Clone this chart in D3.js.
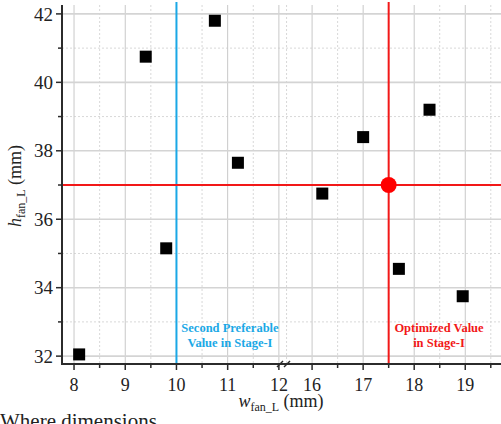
<!DOCTYPE html>
<html>
<head>
<meta charset="utf-8">
<script src="https://cdn.jsdelivr.net/npm/d3@7"></script>
<style>
  body { margin: 0; background: #fff; }
  text { font-family: "Liberation Serif", "Times New Roman", Times, "DejaVu Serif", serif; }
</style>
</head>
<body>
<svg width="501" height="424"></svg>
<script>
// measured points (w_fan_L, h_fan_L)
var wValues = [8.1, 9.4, 9.8, 10.75, 11.2, 16.2, 17.0, 17.7, 18.3, 18.95];
var hValues = [32.05, 40.75, 35.15, 41.8, 37.65, 36.75, 38.4, 34.55, 39.2, 33.75];

var xTicksLeft = [8, 9, 10, 11, 12];
var xTicksRight = [16, 17, 18, 19];
var xMinorLeft = [8.5, 9.5, 10.5, 11.5];
var xMinorRight = [15.5, 16.5, 17.5, 18.5, 19.5];
var yTicks = [32, 34, 36, 38, 40, 42];
var yMinor = [33, 35, 37, 39, 41];

var secondW = 10;
var optW = 17.5, optH = 37;

const svg = d3.select("svg");
const serif = "'Liberation Serif', 'Times New Roman', Times, 'DejaVu Serif', serif";

var axisY = 364, axisX = 62, breakX = 284;

var xl = d3.scaleLinear().domain([7.765, 12.1]).range([axisX, breakX]);
var xr = d3.scaleLinear().domain([15.45, 19.7]).range([breakX, 501]);
function x(v) { return v <= 12.1 ? xl(v) : xr(v); }
var y = d3.scaleLinear().domain([31.77, 42.26]).range([axisY, 5]);

var grid = svg.append("g");

// minor gridlines (dotted)
grid.selectAll(".vminor")
    .data(xMinorLeft.concat(xMinorRight))
  .enter().append("line")
    .attr("x1", d => x(d)).attr("x2", d => x(d))
    .attr("y1", 5).attr("y2", axisY)
    .style("stroke", "#d8d8d8")
    .style("stroke-width", "1px")
    .style("stroke-dasharray", "2,2");

grid.selectAll(".hminor")
    .data(yMinor)
  .enter().append("line")
    .attr("x1", axisX).attr("x2", 501)
    .attr("y1", d => y(d)).attr("y2", d => y(d))
    .style("stroke", "#d8d8d8")
    .style("stroke-width", "1px")
    .style("stroke-dasharray", "2,2");

// major gridlines
grid.selectAll(".vmajor")
    .data(xTicksLeft.concat(xTicksRight))
  .enter().append("line")
    .attr("x1", d => x(d)).attr("x2", d => x(d))
    .attr("y1", 5).attr("y2", axisY)
    .style("stroke", "#c8c8c8")
    .style("stroke-width", "1px");

grid.selectAll(".hmajor")
    .data(yTicks)
  .enter().append("line")
    .attr("x1", axisX).attr("x2", 501)
    .attr("y1", d => y(d)).attr("y2", d => y(d))
    .style("stroke", "#d4d4d4")
    .style("stroke-width", "1.6px");

// reference lines
svg.append("line")
    .attr("x1", x(secondW)).attr("x2", x(secondW))
    .attr("y1", 2).attr("y2", axisY)
    .style("stroke", "#1aa8e6")
    .style("stroke-width", "2px");

svg.append("line")
    .attr("x1", x(optW)).attr("x2", x(optW))
    .attr("y1", 2).attr("y2", axisY)
    .style("stroke", "#f21818")
    .style("stroke-width", "2px");

svg.append("line")
    .attr("x1", axisX).attr("x2", 501)
    .attr("y1", y(optH)).attr("y2", y(optH))
    .style("stroke", "#f21818")
    .style("stroke-width", "2px");

// axes
var axisG = svg.append("g").style("stroke", "#2b2b2b");

axisG.append("line")
    .attr("x1", axisX).attr("x2", axisX)
    .attr("y1", 5).attr("y2", axisY + 1)
    .style("stroke-width", "2px");
axisG.append("line")
    .attr("x1", axisX - 1).attr("x2", 501)
    .attr("y1", axisY).attr("y2", axisY)
    .style("stroke-width", "2px");

axisG.selectAll(".ytick")
    .data(yTicks)
  .enter().append("line")
    .attr("x1", axisX - 6).attr("x2", axisX)
    .attr("y1", d => y(d)).attr("y2", d => y(d))
    .style("stroke-width", "1.5px");
axisG.selectAll(".yminortick")
    .data(yMinor)
  .enter().append("line")
    .attr("x1", axisX - 4).attr("x2", axisX)
    .attr("y1", d => y(d)).attr("y2", d => y(d))
    .style("stroke-width", "1.5px");

axisG.selectAll(".xtick")
    .data(xTicksLeft.concat(xTicksRight))
  .enter().append("line")
    .attr("x1", d => x(d)).attr("x2", d => x(d))
    .attr("y1", axisY).attr("y2", axisY + 6)
    .style("stroke-width", "1.5px");
axisG.selectAll(".xminortick")
    .data(xMinorLeft.concat(xMinorRight.slice(1)))
  .enter().append("line")
    .attr("x1", d => x(d)).attr("x2", d => x(d))
    .attr("y1", axisY).attr("y2", axisY + 4)
    .style("stroke-width", "1.5px");

// axis break marks
[breakX - 4, breakX + 3].forEach(function(bx) {
  axisG.append("line")
      .attr("x1", bx - 3).attr("x2", bx + 3)
      .attr("y1", axisY + 3).attr("y2", axisY - 3)
      .style("stroke-width", "1.5px");
});

// tick labels
svg.selectAll(".ylab")
    .data(yTicks)
  .enter().append("text")
    .attr("x", axisX - 9)
    .attr("y", d => y(d))
    .attr("dy", "0.35em")
    .attr("text-anchor", "end")
    .attr("font-family", serif)
    .style("font-size", "19px")
    .style("fill", "#222")
    .text(d => d);

svg.selectAll(".xlab")
    .data(xTicksLeft.concat(xTicksRight))
  .enter().append("text")
    .attr("x", d => x(d))
    .attr("y", 391)
    .attr("text-anchor", "middle")
    .attr("font-family", serif)
    .style("font-size", "18px")
    .style("fill", "#222")
    .text(d => d);

// axis titles
var xt = svg.append("text")
    .attr("x", 281)
    .attr("y", 407)
    .attr("text-anchor", "middle")
    .attr("font-family", serif)
    .style("font-size", "18px")
    .style("fill", "#222");
xt.append("tspan").style("font-style", "italic").text("w");
xt.append("tspan").attr("dy", 4).style("font-size", "12px").text("fan_L");
xt.append("tspan").attr("dy", -4).text(" (mm)");

var yt = svg.append("text")
    .attr("transform", "translate(21,186) rotate(-90)")
    .attr("text-anchor", "middle")
    .attr("font-family", serif)
    .style("font-size", "18px")
    .style("fill", "#222");
yt.append("tspan").style("font-style", "italic").text("h");
yt.append("tspan").attr("dy", 4).style("font-size", "12px").text("fan_L");
yt.append("tspan").attr("dy", -4).text(" (mm)");

// annotations
var blueNote = svg.append("text")
    .attr("text-anchor", "middle")
    .attr("font-family", serif)
    .style("font-size", "12.5px")
    .style("font-weight", "bold")
    .style("fill", "#1aa8e6");
blueNote.append("tspan").attr("x", 230).attr("y", 332).text("Second Preferable");
blueNote.append("tspan").attr("x", 230).attr("y", 347).text("Value in Stage-I");

var redNote = svg.append("text")
    .attr("text-anchor", "middle")
    .attr("font-family", serif)
    .style("font-size", "12.5px")
    .style("font-weight", "bold")
    .style("fill", "#f21818");
redNote.append("tspan").attr("x", 439).attr("y", 332).text("Optimized Value");
redNote.append("tspan").attr("x", 439).attr("y", 347).text("in Stage-I");

// data squares
var pts = wValues.map((w, i) => ({ w: w, h: hValues[i] }));
svg.selectAll(".pt")
    .data(pts)
  .enter().append("rect")
    .attr("x", d => x(d.w) - 6)
    .attr("y", d => y(d.h) - 6)
    .attr("width", 12)
    .attr("height", 12)
    .style("fill", "#000");

// optimum marker
svg.append("circle")
    .attr("cx", x(optW))
    .attr("cy", y(optH))
    .attr("r", 8)
    .style("fill", "#f00");

// caption cut off at the bottom
svg.append("text")
    .attr("x", 0)
    .attr("y", 428)
    .attr("font-family", serif)
    .style("font-size", "21px")
    .style("fill", "#222")
    .text("Where dimensions");
</script>
</body>
</html>
